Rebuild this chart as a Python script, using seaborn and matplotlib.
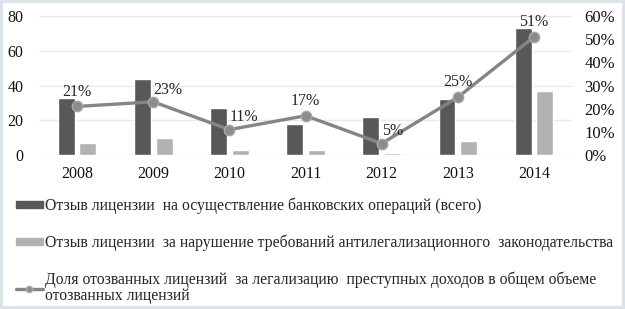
import numpy as np
import pandas as pd
import seaborn as sns
import matplotlib.pyplot as plt
from matplotlib.lines import Line2D
from matplotlib.patches import Patch

# data
years = ["2008", "2009", "2010", "2011", "2012", "2013", "2014"]
revoked_total = [33, 44, 27, 18, 22, 32, 73]
revoked_aml = [7, 10, 3, 3, 1, 8, 37]
share_pct = [21, 23, 11, 17, 5, 25, 51]

label_total = "Отзыв лицензии  на осуществление банковских операций (всего)"
label_aml = "Отзыв лицензии  за нарушение требований антилегализационного  законодательства"
label_share = ("Доля отозванных лицензий  за легализацию  преступных доходов в общем объеме\n"
               "отозванных лицензий")

sns.set_theme(style="white")
plt.rcParams["font.family"] = ["Liberation Serif", "DejaVu Serif"]

dark = "#585858"
light = "#b2b2b2"
line_col = "#858585"
fs = 11.5

df = pd.DataFrame({
    "year": years * 2,
    "value": revoked_total + revoked_aml,
    "series": [label_total] * len(years) + [label_aml] * len(years),
})

fig = plt.figure(figsize=(6.25, 3.09), dpi=100)
fig.patch.set_edgecolor("#dbe2ea")
fig.patch.set_linewidth(3)
ax = fig.add_axes([0.0624, 0.498, 0.853, 0.45])

sns.barplot(data=df, x="year", y="value", hue="series", palette=[dark, light],
            width=0.57, gap=0.22, ax=ax, legend=False, saturation=1)
ax.set_ylim(0, 80)
ax.set_yticks([0, 20, 40, 60, 80])
ax.yaxis.grid(True, color="#e6eaef", linewidth=1)
ax.set_axisbelow(True)
ax.set_xlabel("")
ax.set_ylabel("")
for s in ax.spines.values():
    s.set_visible(False)
ax.tick_params(axis="both", labelsize=fs, length=0, colors="#111111")
ax.tick_params(axis="y", pad=11)
ax.tick_params(axis="x", pad=8)

ax2 = ax.twinx()
xpos = np.arange(len(years))
sns.lineplot(x=xpos, y=share_pct, ax=ax2, color=line_col, linewidth=2.4,
             marker="o", markersize=7.5, markerfacecolor="#8c8c8c",
             markeredgecolor="#a8a8a8", markeredgewidth=1)
ax2.set_ylim(0, 60)
ax2.set_yticks(range(0, 61, 10))
ax2.set_yticklabels([f"{v}%" for v in range(0, 61, 10)])
ax.set_xlim(-0.5, len(years) - 0.5)
ax2.set_xlim(-0.5, len(years) - 0.5)
for s in ax2.spines.values():
    s.set_visible(False)
ax2.tick_params(axis="y", labelsize=12, length=0, pad=9, colors="#111111")
ax2.grid(False)

# label placement: above or to the right of each point
place = ["up", "right", "right", "up", "right", "up", "up"]
for x, v, p in zip(xpos, share_pct, place):
    if p == "up":
        ax2.annotate(f"{v}%", (x, v), xytext=(0, 5), textcoords="offset points",
                     ha="center", va="bottom", fontsize=fs)
    else:
        ax2.annotate(f"{v}%", (x, v), xytext=(0, 3), textcoords="offset points",
                     ha="left", va="bottom", fontsize=fs)

handles = [
    Patch(facecolor=dark, edgecolor=dark),
    Patch(facecolor=light, edgecolor=light),
    Line2D([0], [0], color=line_col, linewidth=2.4, marker="o", markersize=4.5,
           markerfacecolor="#8c8c8c", markeredgecolor="#a8a8a8"),
]
leg = fig.legend(handles, [label_total, label_aml, label_share], loc="upper left",
                 bbox_to_anchor=(0.015, 0.38), frameon=False, fontsize=11.3,
                 handlelength=1.75, handleheight=0.35, handletextpad=0.15,
                 labelspacing=1.3, borderaxespad=0)
for t in leg.get_texts():
    t.set_linespacing(1.0)

fig.savefig("out.png", dpi=100)
